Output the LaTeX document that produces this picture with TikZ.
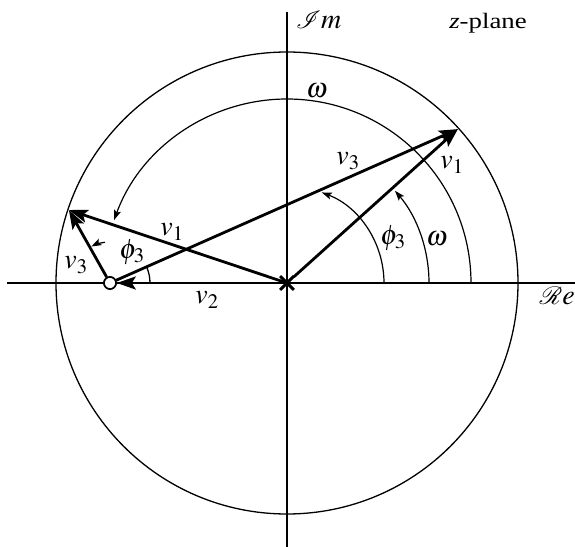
\documentclass[tikz,border=0pt]{standalone}
\usepackage{mathptmx}
\usepackage{mathrsfs}
\usepackage[no-math]{fontspec}
\setmainfont{Liberation Serif}
\usetikzlibrary{arrows.meta,shapes.misc,calc}

\begin{document}
\begin{tikzpicture}[x=1pt,y=1pt,
  thinline/.style={line width=1.3pt},
  vec/.style={line width=2.8pt, -{Stealth[length=19pt,width=13pt,inset=4pt]}},
  arcarrow/.style={line width=1.2pt, -{Stealth[length=10pt,width=7pt,inset=2pt]}},
  lab/.style={font=\fontsize{28}{32}\selectfont, inner sep=0pt}]
\useasboundingbox (-287,-263) rectangle (288,283);

% axes
\coordinate (xl) at (-280,0);
\coordinate (xr) at (290,0);
\coordinate (yt) at (0,271);
\coordinate (yb) at (0,-265);
\draw[thinline] (xl) -- (xr);
\draw[thinline] (yb) -- (yt);

% unit circle
\draw[thinline] (0,0) circle[radius=231];

% points
\coordinate (P1) at (42:230);
\coordinate (P2) at (161.5:230);
\node[cross out, draw, line width=2.6pt, minimum size=11pt, inner sep=0pt] (pole) at (0,0) {};
\node[circle, draw, fill=white, line width=1.6pt, minimum size=12pt, inner sep=0pt] (zero) at (-177,0) {};

% angle arcs (around the origin)
\draw[arcarrow] (0:184) arc[start angle=0, end angle=160, radius=184];
\draw[arcarrow] (0:142) arc[start angle=0, end angle=40.5, radius=142];
\draw[arcarrow] (0:97) arc[start angle=0, end angle=69, radius=97];

% angle arcs at the zero
\draw[thinline] ($(zero.center)+(40,0)$) arc[start angle=0, end angle=23, radius=40];
\draw[arcarrow] ($(zero.center)+(97:41)$) arc[start angle=97, end angle=117, radius=41];

% vectors
\draw[vec] (pole) -- (P1);
\draw[vec] (zero) -- (P1);
\draw[vec] (pole.center) -- (P2);
\draw[vec] (zero) -- (P2);
\draw[vec] (pole.center) -- (zero);

% redraw markers on top
\node[cross out, draw, line width=2.6pt, minimum size=11pt, inner sep=0pt] at (0,0) {};
\node[circle, draw, fill=white, line width=1.6pt, minimum size=12pt, inner sep=0pt] at (-177,0) {};

% labels
\node[lab, anchor=west] (im) at (9,263) {$\mathscr{I}m$};
\node[lab, font=\fontsize{22}{26}\selectfont] (zp) at (201,260) {\addfontfeature{FakeStretch=1.22}\textit{z}-plane};
\node[lab] (wtop) at (30,192) {$\omega$};
\node[lab] (v3u) at (61,122) {$v_3$};
\node[lab] (v1r) at (165,118) {$v_1$};
\node[lab] (phr) at (106,45) {$\phi_3$};
\node[lab] (wr) at (150,44) {$\omega$};
\node[lab] (v1l) at (-115,51) {$v_1$};
\node[lab] (phl) at (-155,31) {$\phi_3$};
\node[lab] (v3l) at (-211,18) {$v_3$};
\node[lab] (v2) at (-80,-17) {$v_2$};
\node[lab, anchor=east] (re) at (288,-13) {$\mathscr{R}e$};
\end{tikzpicture}
\end{document}
